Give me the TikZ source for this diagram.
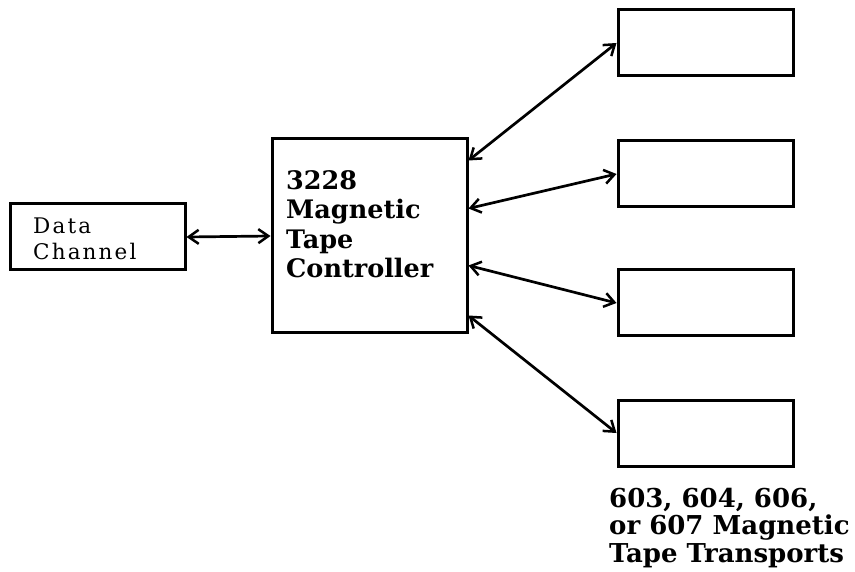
\documentclass[tikz,border=0pt]{standalone}
\usepackage{fontspec}
\newfontfamily\dcfont{DejaVu Serif}[LetterSpace=10]
\newfontfamily\bldfont{DejaVu Serif Bold}
\usetikzlibrary{arrows.meta,calc}
\begin{document}
\begin{tikzpicture}[x=1pt,y=-1pt,
  box/.style={draw,line width=3pt,minimum width=175pt,minimum height=66pt,inner sep=0pt},
  link/.style={line width=2.7pt,{Straight Barb[length=10pt,width=14pt,line width=2.5pt]}-{Straight Barb[length=10pt,width=14pt,line width=2.5pt]}},
  lbl/.style={align=left,inner sep=0pt,anchor=base west}]
\useasboundingbox (0,0) rectangle (855,572);
\node[box] (dc) at (97.5,237) {};
\node[box,minimum width=195pt,minimum height=194pt] (ctrl) at (369.5,236) {};
\node[box] (t1) at (705.5,43) {};
\node[box] (t2) at (705.5,174) {};
\node[box] (t3) at (705.5,303) {};
\node[box] (t4) at (705.5,433) {};
\node[lbl,font=\dcfont\fontsize{21.5}{26}\selectfont] (dct) at (33,260) {Data\\Channel};
\node[lbl,font=\bldfont\fontsize{25.5}{29.5}\selectfont] (ct) at (286,278) {3228\\Magnetic\\Tape\\Controller};
\node[lbl,font=\bldfont\fontsize{26}{27.5}\selectfont] (tt) at (609,562) {603,\ 604,\ 606,\\or 607 Magnetic\\Tape Transports};
\draw[link] (dc.east) -- (ctrl.west);
\draw[link] ([yshift=-23pt]ctrl.north east) -- (t1.west);
\draw[link] ([yshift=-71pt]ctrl.north east) -- (t2.west);
\draw[link] ([yshift=-128pt]ctrl.north east) -- (t3.west);
\draw[link] ([yshift=-178pt]ctrl.north east) -- (t4.west);
\end{tikzpicture}
\end{document}
